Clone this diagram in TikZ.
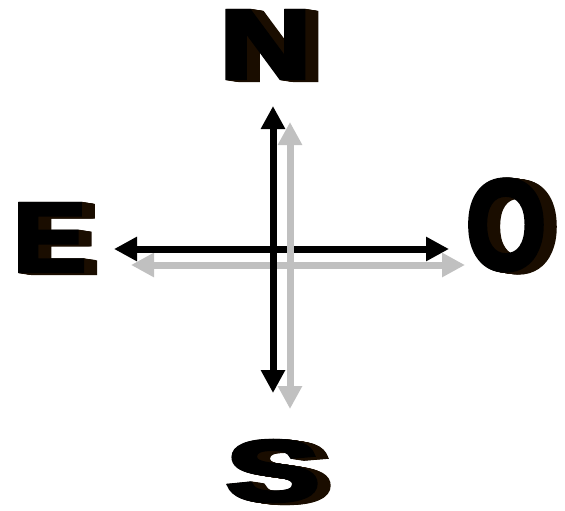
\documentclass[tikz,border=0pt]{standalone}
\usepackage{graphicx}
\usepackage{fontspec}
\usetikzlibrary{arrows.meta,calc}
\newfontfamily\heavyfont[FakeBold=4]{Liberation Sans Bold}
\definecolor{shadowbrown}{HTML}{1A0D00}
\definecolor{arrowgray}{HTML}{C0C0C0}
\tikzset{
  ltr/.style={inner sep=0pt, font=\heavyfont\fontsize{98}{98}\selectfont, text=black},
  blackarrow/.style={draw=black, line width=7pt, {Triangle[width=23pt,length=23pt]}-{Triangle[width=23pt,length=23pt]}},
  grayarrow/.style={draw=arrowgray, line width=7pt, {Triangle[width=23pt,length=23pt]}-{Triangle[width=23pt,length=23pt]}},
}
\newcommand\compassletter[5]{%
  \foreach \k in {13,12,...,1}
    \node[ltr,text=shadowbrown] (#1-s\k) at ($(#2)+(\k,0.15*\k)$) {\scalebox{#3}[#4]{#5}};
  \node[ltr] (#1) at (#2) {\scalebox{#3}[#4]{#5}};
}
\begin{document}
\begin{tikzpicture}[x=1pt,y=-1pt]
\useasboundingbox (0,0) rectangle (565,511);
% arrow end points
\coordinate (bN) at (273,106);
\coordinate (bS) at (273,393);
\coordinate (bW) at (114,249);
\coordinate (bE) at (449,249);
\coordinate (gN) at (290,122);
\coordinate (gS) at (290,409);
\coordinate (gW) at (131,265);
\coordinate (gE) at (465,265);
\draw[grayarrow] (gW) -- (gE);
\draw[blackarrow] (bN) -- (bS);
\draw[blackarrow] (bW) -- (bE);
\draw[grayarrow] (gN) -- (gS);
% letters
\coordinate (pN) at (265.5,44.5);
\coordinate (pE) at (49.5,237.5);
\coordinate (pO) at (506,225);
\coordinate (pS) at (273,471);
\compassletter{N}{pN}{1.3}{1.0}{N}
\compassletter{E}{pE}{1.12}{1.0}{E}
\compassletter{O}{pO}{1.05}{1.3}{O}
\compassletter{S}{pS}{1.45}{0.88}{S}
\end{tikzpicture}
\end{document}
